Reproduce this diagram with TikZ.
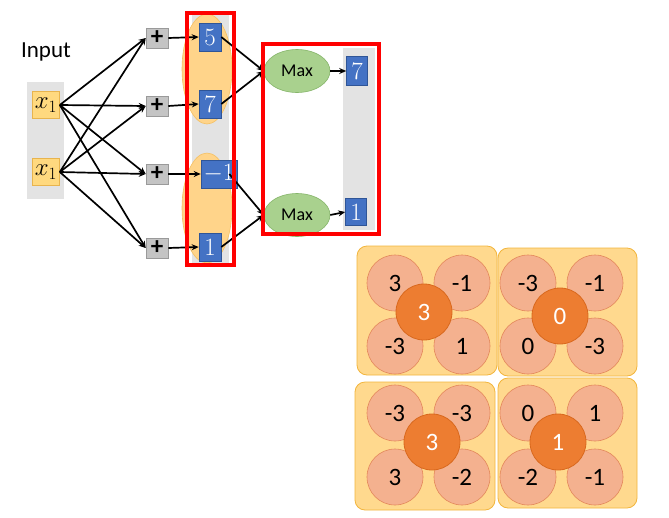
\documentclass[tikz,border=0pt]{standalone}
\usepackage{fontspec}
\newfontfamily\carl{Carlito}
\usetikzlibrary{arrows.meta,shapes.geometric}
\definecolor{bggray}{HTML}{E3E3E3}
\definecolor{infill}{HTML}{FFD97F}
\definecolor{indraw}{HTML}{E8B44E}
\definecolor{plusfill}{HTML}{C4C4C4}
\definecolor{plusdraw}{HTML}{9A9A9A}
\definecolor{bluefill}{HTML}{4472C4}
\definecolor{bluedraw}{HTML}{2F5597}
\definecolor{ellfill}{HTML}{FFD48A}
\definecolor{elldraw}{HTML}{F5C062}
\definecolor{greenfill}{HTML}{A9D18E}
\definecolor{greendraw}{HTML}{86B56A}
\definecolor{panelfill}{HTML}{FFD98E}
\definecolor{paneldraw}{HTML}{F2B53C}
\definecolor{circfill}{HTML}{F4B18F}
\definecolor{circdraw}{HTML}{E3875A}
\definecolor{centfill}{HTML}{ED7D31}
\definecolor{centdraw}{HTML}{D9691E}
\definecolor{redbox}{HTML}{FF0000}
\begin{document}
\begin{tikzpicture}[x=1pt,y=-1pt,
  arr/.style={-{Stealth[length=7pt,width=6pt]}, line width=1.7pt, black},
  inbox/.style={draw=indraw, fill=infill, line width=0.6pt, minimum width=27pt, minimum height=27pt, inner sep=0pt, font=\fontsize{27}{27}\selectfont},
  plusbox/.style={draw=plusdraw, fill=plusfill, line width=0.6pt, minimum width=22pt, minimum height=20pt, inner sep=0pt, font=\carl\bfseries\fontsize{25}{25}\selectfont},
  bluebox/.style={draw=bluedraw, fill=bluefill, line width=0.6pt, minimum width=22pt, minimum height=28pt, inner sep=0pt, text=white, font=\fontsize{28}{28}\selectfont},
  maxell/.style={ellipse, draw=greendraw, fill=greenfill, line width=0.6pt, minimum width=66pt, minimum height=43pt, inner sep=0pt, font=\carl\fontsize{18}{18}\selectfont},
  redframe/.style={draw=redbox, line width=3.5pt},
  panelbox/.style={draw=paneldraw, fill=panelfill, line width=0.8pt, rounded corners=10pt},
  smallc/.style={circle, draw=circdraw, fill=circfill, line width=0.6pt, minimum size=56pt, inner sep=0pt, font=\carl\fontsize{25}{25}\selectfont},
  centc/.style={circle, draw=centdraw, fill=centfill, line width=0.8pt, minimum size=56pt, inner sep=0pt, text=white, font=\carl\fontsize{25}{25}\selectfont}
]
\useasboundingbox (0,0) rectangle (669,517);

% ---- Input ----
\node[font=\carl\fontsize{23}{23}\selectfont] (inputlbl) at (46,52) {Input};
\fill[bggray] (27,82) rectangle (64,199);
\node[inbox] (i1) at (46,105) {$x_1$};
\node[inbox] (i2) at (46,172) {$x_1$};

% ---- plus boxes ----
\node[plusbox] (p1) at (157,38) {+};
\node[plusbox] (p2) at (157,106) {+};
\node[plusbox] (p3) at (157,174) {+};
\node[plusbox] (p4) at (157,248) {+};

% ---- first column background ----
\fill[bggray] (192,15) rectangle (229,263);
\filldraw[fill=ellfill, draw=elldraw, line width=0.6pt] (207,69) ellipse [x radius=25, y radius=55];
\filldraw[fill=ellfill, draw=elldraw, line width=0.6pt] (207,208) ellipse [x radius=25, y radius=55];

\node[bluebox] (b1) at (210,37) {$5$};
\node[bluebox] (b2) at (210,104) {$7$};
\node[bluebox, minimum width=36pt] (b3) at (219,174) {$-1$};
\node[bluebox] (b4) at (210,247) {$1$};

% ---- connections input -> plus ----
\foreach \s in {i1,i2}
  \foreach \t in {p1,p2,p3,p4}
    \draw[arr] (\s.east) -- (\t.west);

\foreach \a/\b in {p1/b1,p2/b2,p3/b3,p4/b4}
  \draw[arr] (\a.east) -- (\b.west);

% ---- second stage ----
\fill[bggray] (343,48) rectangle (375,230);
\node[maxell] (m1) at (297,71) {Max};
\node[maxell] (m2) at (297,215) {Max};
\node[bluebox, minimum width=21pt, minimum height=29pt] (o1) at (357,71) {$7$};
\node[bluebox, minimum width=21pt, minimum height=27pt] (o2) at (356,212) {$1$};

\draw[arr] (b1.east) -- (m1.west);
\draw[arr] (b2.east) -- (m1.west);
\draw[arr] ([xshift=-8pt]b3.east) -- (m2.west);
\draw[arr] (b4.east) -- (m2.west);
\draw[arr] (m1.east) -- (o1.west);
\draw[arr] (m2.east) -- (o2.west);

% ---- red frames ----
\draw[redframe] (187,13) rectangle (234,265);
\draw[redframe] (263,44) rectangle (379,234);

% ---- pooling panels ----
\draw[panelbox] (357,246) rectangle (497,375);
\draw[panelbox] (498,248) rectangle (637,376);
\draw[panelbox] (355,382) rectangle (495,510);
\draw[panelbox] (498,378) rectangle (637,508);

% panel 1
\node[smallc] (a1) at (395,283) {3};
\node[smallc] (a2) at (462,283) {-1};
\node[smallc] (a3) at (395,346) {-3};
\node[smallc] (a4) at (462,346) {1};
\node[centc] (ac) at (424,312) {3};
% panel 2
\node[smallc] (c1) at (528,283) {-3};
\node[smallc] (c2) at (595,283) {-1};
\node[smallc] (c3) at (528,346) {0};
\node[smallc] (c4) at (595,346) {-3};
\node[centc] (cc) at (560,316) {0};
% panel 3
\node[smallc] (d1) at (395,413) {-3};
\node[smallc] (d2) at (462,413) {-3};
\node[smallc] (d3) at (395,477) {3};
\node[smallc] (d4) at (462,477) {-2};
\node[centc] (dc) at (432,442) {3};
% panel 4
\node[smallc] (e1) at (528,413) {0};
\node[smallc] (e2) at (595,413) {1};
\node[smallc] (e3) at (528,477) {-2};
\node[smallc] (e4) at (595,477) {-1};
\node[centc] (ec) at (558,442) {1};
\end{tikzpicture}
\end{document}
